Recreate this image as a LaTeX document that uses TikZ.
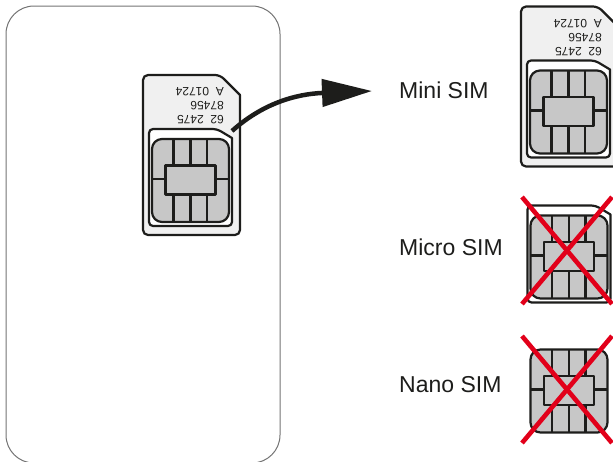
\documentclass[tikz,border=0pt]{standalone}
\usepackage{fontspec}
\setmainfont{Liberation Sans}
\usetikzlibrary{arrows.meta}
\definecolor{inkblack}{HTML}{1D1D1B}
\definecolor{crossred}{HTML}{E2001A}
\tikzset{
    x=1pt, y=-1pt,
    outline/.style = {draw=inkblack, line width=2.2pt, line join=round},
    label/.style = {anchor=base west, inner sep=0pt, font=\fontsize{23}{24}\selectfont, text=inkblack},
    printed/.style = {anchor=base west, inner sep=0pt, rotate=180, font=\fontsize{12}{12}\selectfont, text=inkblack},
    cross/.style = {draw=crossred, line width=4.6pt},
    chip/.pic = {
        \draw[outline, fill=black!22, rounded corners=10pt] (-38.5,-41.5) rectangle (38.5,41.5);
        \foreach \px in {-17,0,16.5} {
            \draw[outline] (\px,-41.5) -- (\px,-15)
                           (\px,14) -- (\px,41.5);
        }
        \draw[outline] (-38.5,-1.5) -- (-25,-1.5)
                       (25,-1.5) -- (38.5,-1.5);
        \draw[outline, fill=black!22] (-25,-15) rectangle (25,14);
    },
    microframe/.pic = {
        \draw[outline, fill=white, rounded corners=4pt] (-41.5,45.5) -- (-41.5,-51.5) -- (26.5,-51.5) [sharp corners] -- (41.5,-42.5) [rounded corners=4pt] -- (41.5,45.5) -- cycle;
    },
    minicard/.pic = {
        \draw[outline, fill=black!6, rounded corners=5pt] (-47.5,54.5) -- (-47.5,-105.5) -- (29.5,-105.5) [sharp corners] -- (49.5,-85.5) [rounded corners=5pt] -- (49.5,54.5) -- cycle;
        \node[printed] at (33.5,-65) {62\ \ 2475};
        \node[printed] at (33.5,-79) {87456};
        \node[printed] at (33.5,-93) {A\ \ 01724};
        \pic {microframe};
        \pic {chip};
    },
}
\begin{document}
\begin{tikzpicture}
    \clip (0,0) rectangle (613,461);
    % phone
    \draw[draw=black!55, line width=1pt, rounded corners=28pt] (6,6) rectangle (280,463);
    % card in the phone
    \pic at (190.5,180.5) {minicard};
    % arrow
    \coordinate (from) at (232,131);
    \coordinate (to) at (372,91);
    \draw[inkblack, line width=4.5pt, -{Triangle[length=50pt, width=27pt]}] (from) .. controls (262,104) and (295,94) .. (to);
    % right column
    \node[label] (mini) at (399,98) {Mini SIM};
    \node[label] (micro) at (399,255) {Micro SIM};
    \node[label] (nano) at (399,392) {Nano SIM};
    \pic at (568.5,112) {minicard};
    \pic at (569,257) {microframe};
    \pic at (569,257) {chip};
    \pic at (569,391) {chip};
    % crosses
    \foreach \cy in {250.5,389.5} {
        \draw[cross] (522,\cy-53.5) -- (612,\cy+53.5);
        \draw[cross] (612,\cy-53.5) -- (522,\cy+53.5);
    }
\end{tikzpicture}
\end{document}
